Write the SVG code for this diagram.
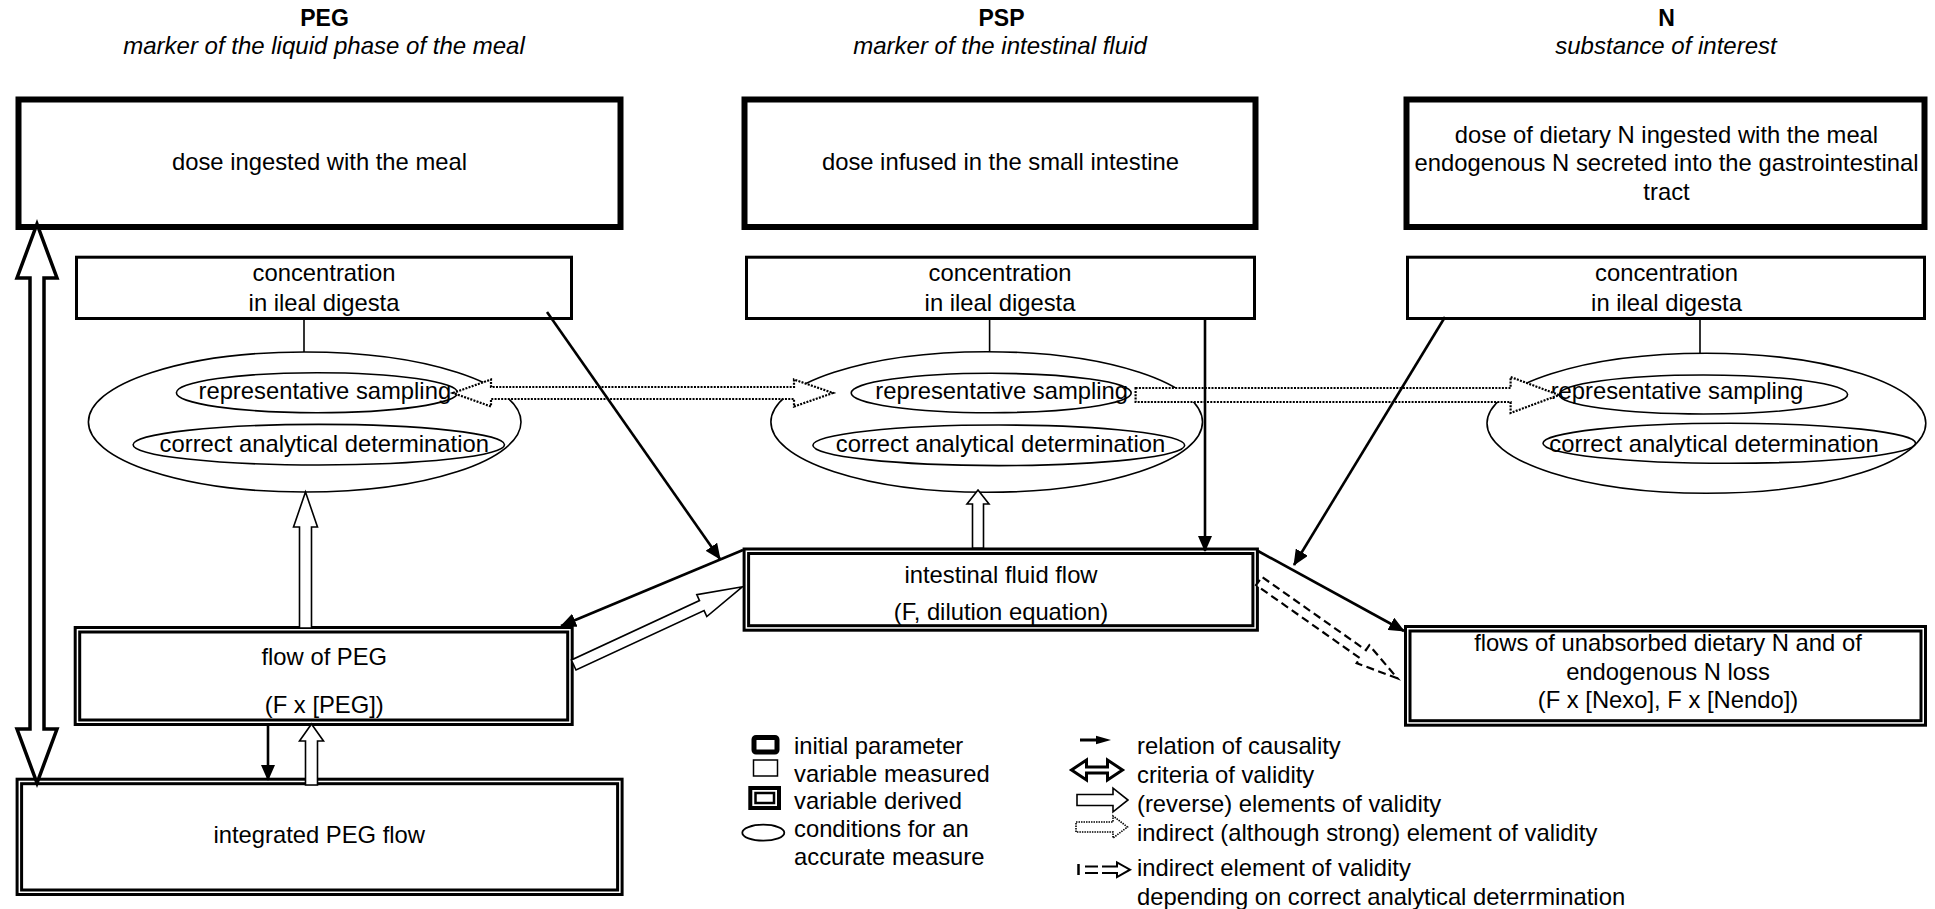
<svg xmlns="http://www.w3.org/2000/svg" width="1935" height="909" viewBox="0 0 1935 909">
<defs>
<style>
text{font-family:"Liberation Sans",Arial,sans-serif;fill:#000}
.t{font-size:23.8px;text-anchor:middle}
.hb{font-size:23px;font-weight:bold;text-anchor:middle}
.hi{font-size:24px;font-style:italic;text-anchor:middle}
.lg{font-size:23.8px}
.init{fill:#fff;stroke:#000;stroke-width:6}
.meas{fill:#fff;stroke:#000;stroke-width:3}
.der{fill:none;stroke:#000;stroke-width:3}
.ell{fill:none;stroke:#000;stroke-width:1.6}
.thin{stroke:#000;stroke-width:1.6;fill:none}
.cause{stroke:#000;stroke-width:2.6;fill:none;marker-end:url(#ah)}
.open{fill:#fff;stroke:#000;stroke-width:1.6;stroke-linejoin:miter}
.crit{fill:#fff;stroke:#000;stroke-width:3.5;stroke-linejoin:miter}
.dot{fill:#fff;stroke:#000;stroke-width:2.2;stroke-dasharray:2 1.3}
.dash{fill:#fff;stroke:#000;stroke-width:2.2;stroke-dasharray:8 4.5}
</style>
<marker id="ah" viewBox="0 0 16 14" refX="15" refY="7" markerWidth="16" markerHeight="14" markerUnits="userSpaceOnUse" orient="auto"><path d="M0,0 L16,7 L0,14 Z" fill="#000"/></marker>
</defs>
<rect width="1935" height="909" fill="#fff"/>

<g id="header-peg"><text class="hb" x="324.5" y="26">PEG</text><text class="hi" x="324" y="54">marker of the liquid phase of the meal</text></g>
<g id="header-psp"><text class="hb" x="1001.5" y="26">PSP</text><text class="hi" x="1000" y="54">marker of the intestinal fluid</text></g>
<g id="header-n"><text class="hb" x="1666.5" y="26">N</text><text class="hi" x="1666" y="54">substance of interest</text></g>

<g id="dose-peg"><rect class="init" x="18.5" y="99.5" width="602" height="127.5"/><text class="t" x="319.5" y="170">dose ingested with the meal</text></g>
<g id="dose-psp"><rect class="init" x="744.5" y="99.5" width="511" height="127.5"/><text class="t" x="1000.5" y="170">dose infused in the small intestine</text></g>
<g id="dose-n"><rect class="init" x="1406.5" y="99.5" width="518" height="127.5"/><text class="t" x="1666.5" y="142.5">dose of dietary N ingested with the meal</text><text class="t" x="1666.5" y="171">endogenous N secreted into the gastrointestinal</text><text class="t" x="1666.5" y="199.5">tract</text></g>

<g id="conc-peg"><rect class="meas" x="76.5" y="257.2" width="495" height="61.3"/><text class="t" x="324" y="281">concentration</text><text class="t" x="324" y="311">in ileal digesta</text></g>
<g id="conc-psp"><rect class="meas" x="746.5" y="257.2" width="508" height="61.3"/><text class="t" x="1000" y="281">concentration</text><text class="t" x="1000" y="311">in ileal digesta</text></g>
<g id="conc-n"><rect class="meas" x="1407.5" y="257.2" width="517" height="61.3"/><text class="t" x="1666.5" y="281">concentration</text><text class="t" x="1666.5" y="311">in ileal digesta</text></g>

<g id="cond-peg"><ellipse class="ell" cx="304.7" cy="422" rx="216.3" ry="70"/><ellipse class="ell" cx="317" cy="392.7" rx="140.6" ry="20"/><ellipse class="ell" cx="318.8" cy="444.7" rx="185.7" ry="20.3"/><text class="t" x="324.8" y="399.3">representative sampling</text><text class="t" x="324.3" y="451.7">correct analytical determination</text></g>
<g id="cond-psp"><ellipse class="ell" cx="986.7" cy="422" rx="215.8" ry="70.3"/><ellipse class="ell" cx="991.2" cy="393" rx="140" ry="19.7"/><ellipse class="ell" cx="998.8" cy="445.3" rx="185.9" ry="20.3"/><text class="t" x="1001.7" y="399.3">representative sampling</text><text class="t" x="1000.5" y="451.7">correct analytical determination</text></g>
<g id="cond-n"><ellipse class="ell" cx="1706.4" cy="423.3" rx="219.4" ry="70"/><ellipse class="ell" cx="1703.4" cy="394.5" rx="144.2" ry="19.5"/><ellipse class="ell" cx="1729.3" cy="443.3" rx="186.3" ry="20"/><text class="t" x="1677" y="399.3">representative sampling</text><text class="t" x="1714" y="451.7">correct analytical determination</text></g>

<g id="int-flow"><rect class="der" x="744.1" y="549" width="513.3" height="81.2"/><rect class="der" x="748.6" y="553.5" width="504.3" height="72.2"/><text class="t" x="1001" y="583">intestinal fluid flow</text><text class="t" x="1001" y="620">(F, dilution equation)</text></g>
<g id="flow-peg"><rect class="der" x="75.2" y="627.5" width="497" height="97"/><rect class="der" x="79.7" y="632" width="488" height="88"/><text class="t" x="324.3" y="665">flow of PEG</text><text class="t" x="324.3" y="713.3">(F x [PEG])</text></g>
<g id="integrated"><rect class="der" x="17.1" y="779.2" width="605" height="115.3"/><rect class="der" x="21.6" y="783.7" width="596" height="106.3"/><text class="t" x="319.2" y="843.3">integrated PEG flow</text></g>
<g id="flows-n"><rect class="der" x="1405.5" y="626.5" width="520" height="98.7"/><rect class="der" x="1410" y="631" width="511" height="89.7"/><text class="t" x="1668" y="651">flows of unabsorbed dietary N and of</text><text class="t" x="1668" y="680">endogenous N loss</text><text class="t" x="1668" y="708">(F x [Nexo], F x [Nendo])</text></g>

<g id="legend">
<rect x="754" y="737.5" width="23" height="14.5" rx="2" fill="#fff" stroke="#000" stroke-width="5"/>
<rect x="753.5" y="760" width="24" height="16" fill="#fff" stroke="#000" stroke-width="1.5"/>
<rect x="750.3" y="788" width="28.7" height="20" fill="#fff" stroke="#000" stroke-width="4"/>
<rect x="755.5" y="793" width="18.5" height="10" fill="#fff" stroke="#000" stroke-width="2.5"/>
<ellipse cx="763.3" cy="832.7" rx="21" ry="8" fill="none" stroke="#000" stroke-width="1.8"/>
<text class="lg" x="794" y="754">initial parameter</text>
<text class="lg" x="794" y="781.5">variable measured</text>
<text class="lg" x="794" y="809">variable derived</text>
<text class="lg" x="794" y="836.5">conditions for an</text>
<text class="lg" x="794" y="865">accurate measure</text>
<line x1="1080" y1="740" x2="1098" y2="740" stroke="#000" stroke-width="3"/>
<polygon points="1096,735.8 1111,740 1096,744.2" fill="#000"/>
<polygon class="crit" style="stroke-width:3" points="1071.5,770 1086.5,760 1086.5,767 1107.5,767 1107.5,760 1122.5,770 1107.5,780 1107.5,773 1086.5,773 1086.5,780"/>
<polygon class="open" points="1077,794.5 1113,794.5 1113,788.2 1128,800 1113,811.8 1113,805.5 1077,805.5"/>
<polygon class="dot" style="stroke-width:1.6;stroke-dasharray:1.5 1" points="1076,822 1113,822 1113,816 1127.5,827 1113,838 1113,832 1076,832"/>
<line x1="1078.5" y1="864" x2="1078.5" y2="875" stroke="#000" stroke-width="2.5"/>
<path d="M1085,866.5 H1098 M1085,873 H1098" stroke="#000" stroke-width="2" fill="none"/>
<path d="M1102,866.5 H1117 V862.5 L1130,869.7 L1117,877 V873 H1102" stroke="#000" stroke-width="2" fill="none"/>
<text class="lg" x="1137" y="754">relation of causality</text>
<text class="lg" x="1137" y="782.5">criteria of validity</text>
<text class="lg" x="1137" y="811.5">(reverse) elements of validity</text>
<text class="lg" x="1137" y="840.5">indirect (although strong) element of validity</text>
<text class="lg" x="1137" y="876">indirect element of validity</text>
<text class="lg" x="1137" y="904.5">depending on correct analytical deterrmination</text>
</g>

<g id="connectors">
<line class="thin" x1="304" y1="318.5" x2="304" y2="352"/>
<line class="thin" x1="989.6" y1="318.5" x2="989.6" y2="351.7"/>
<line class="thin" x1="1700" y1="318.5" x2="1700" y2="353.3"/>
<polygon class="crit" points="37,224 57,278 44,278 44,729 57,729 37,783 17,729 30,729 30,278 17,278"/>
<polygon class="dot" points="453,393 491,379.5 491,387 794,387 794,379.5 833,393 794,406.5 794,399 491,399 491,406.5"/>
<polygon class="dot" points="1135.6,388 1510.6,388 1510.6,377 1559,395 1510.6,413 1510.6,402 1135.6,402"/>
<polygon class="open" points="305.5,492 317.5,527 311.5,527 311.5,628 299.5,628 299.5,527 293.5,527"/>
<polygon class="open" points="978,490 989,504 983.5,504 983.5,548 972.5,548 972.5,504 967,504"/>
<polygon class="open" points="311.5,724 323.5,741 317.5,741 317.5,785 305.5,785 305.5,741 299.5,741"/>
<polygon class="open" points="742.6,586.7 706.8,616.5 704.1,610.6 576,670 571.4,660 699.5,600.6 696.8,594.7"/>
<polygon class="dash" points="1397.4,678.3 1356.7,663.2 1360.1,658.3 1256.1,585.1 1261.9,576.9 1365.9,650.1 1369.3,645.2"/>
<line class="cause" x1="547" y1="312" x2="720" y2="559"/>
<line class="cause" x1="1205" y1="319" x2="1205" y2="551"/>
<line class="cause" x1="1445" y1="317" x2="1294" y2="565"/>
<line class="cause" x1="743" y1="550" x2="561" y2="626"/>
<line class="cause" x1="1258" y1="551" x2="1404" y2="631"/>
<line class="cause" x1="268" y1="726" x2="268" y2="780"/>
</g>
</svg>
